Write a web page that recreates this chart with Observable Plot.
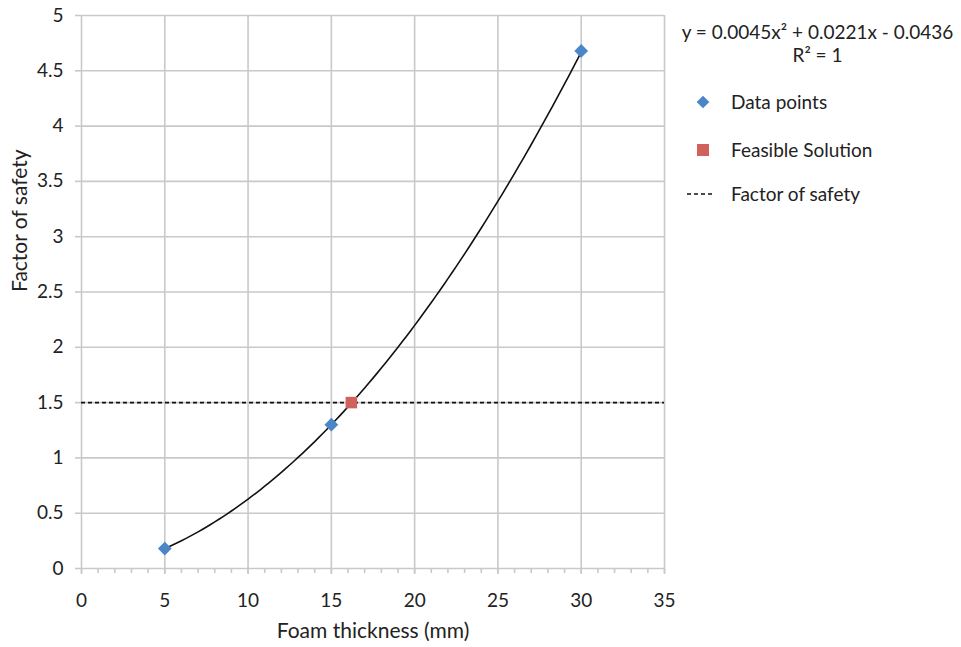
<!DOCTYPE html>
<html>
<head>
<meta charset="utf-8">
<script src="https://cdn.jsdelivr.net/npm/d3@7"></script>
<script src="https://cdn.jsdelivr.net/npm/@observablehq/plot@0.6"></script>
<style>
  html, body { margin: 0; padding: 0; background: #fff; }
  #wrap { position: relative; width: 961px; height: 647px; font-family: Lato, "Open Sans", sans-serif; color: #222; }
  #legend { position: absolute; left: 675px; top: 20px; width: 285px; font-size: 19px; }
  #legend .eq { text-align: center; line-height: 23px; }
  #legend .item { position: absolute; left: 0; display: flex; align-items: center; white-space: nowrap; }
  #legend .sym { width: 55px; display: flex; justify-content: center; align-items: center; }
</style>
</head>
<body>
<div id="wrap"></div>
<script>
// Data
const dataX = [5, 15, 30];            // foam thickness (mm)
const dataY = [0.18, 1.30, 4.68];     // factor of safety
const feasibleX = [16.2];
const feasibleY = [1.5];
const safetyFactor = 1.5;
const trendCoefficients = [0.0045, 0.0221, -0.0436]; // from the displayed equation: a x^2 + b x + c
const xTicks = [0, 5, 10, 15, 20, 25, 30, 35];
const yTicks = [0, 0.5, 1, 1.5, 2, 2.5, 3, 3.5, 4, 4.5, 5];
const xMinorTicks = d3.range(0, 36, 1);

const blue = "#4a86c8";
const red = "#d0615c";
const gridColor = "#c9c9c9";

const points = dataX.map((x, i) => ({x, y: dataY[i]}));
const feasible = feasibleX.map((x, i) => ({x, y: feasibleY[i]}));
const [a, b, c] = trendCoefficients;
const trend = d3.range(dataX[0], dataX[dataX.length - 1] + 0.001, 0.25).map(x => ({x, y: a * x * x + b * x + c}));

const chart = Plot.plot({
  width: 961,
  height: 647,
  marginLeft: 81,
  marginRight: 297,
  marginTop: 15,
  marginBottom: 79,
  style: {fontFamily: "Lato, 'Open Sans', sans-serif", fontSize: "19px", color: "#222", background: "#fff"},
  x: {domain: [0, 35], label: null},
  y: {domain: [0, 5], label: null},
  marks: [
    Plot.gridX(xTicks, {stroke: gridColor, strokeOpacity: 1, strokeWidth: 1.6}),
    Plot.gridY(yTicks, {stroke: gridColor, strokeOpacity: 1, strokeWidth: 1.6}),
    Plot.axisX(xMinorTicks, {tickSize: 5, tickFormat: () => "", stroke: gridColor, strokeWidth: 1.6}),
    Plot.axisY(yTicks, {tickSize: 6, tickPadding: 12, stroke: gridColor, strokeWidth: 1.6, tickFormat: d => String(d), fontSize: 19}),
    Plot.axisX(xTicks, {tickSize: 6, tickPadding: 19, stroke: gridColor, strokeWidth: 1.6, tickFormat: d => String(d), fontSize: 19}),
    Plot.ruleY([safetyFactor], {stroke: "#111", strokeWidth: 1.6, strokeDasharray: "4,3"}),
    Plot.line(trend, {x: "x", y: "y", stroke: "#111", strokeWidth: 1.6, curve: "linear"}),
    Plot.dot(points, {x: "x", y: "y", symbol: "diamond2", r: 6.2, fill: blue, stroke: "none"}),
    Plot.dot(feasible, {x: "x", y: "y", symbol: "square", r: 6.5, fill: red, stroke: "none"}),
    Plot.text(["Foam thickness (mm)"], {frameAnchor: "bottom", dy: 69, fontSize: 21, fill: "#222"}),
    Plot.text(["Factor of safety"], {frameAnchor: "left", dx: -61, rotate: -90, fontSize: 21, fill: "#222"})
  ]
});

const wrap = document.getElementById("wrap");
wrap.appendChild(chart);

// Legend (HTML overlay on the right)
const eq = `y = ${a}x² + ${b}x ${c < 0 ? "-" : "+"} ${Math.abs(c)}`;
const legend = document.createElement("div");
legend.id = "legend";
legend.innerHTML = `
  <div class="eq">${eq}<br>R² = 1</div>
  <div class="item" style="top:70px"><span class="sym"><svg width="14" height="14"><rect x="2.5" y="2.5" width="9" height="9" fill="${blue}" transform="rotate(45 7 7)"/></svg></span><span style="margin-left:1px">Data points</span></div>
  <div class="item" style="top:118px"><span class="sym"><svg width="14" height="14"><rect x="1" y="1" width="12" height="12" fill="${red}"/></svg></span><span style="margin-left:1px">Feasible Solution</span></div>
  <div class="item" style="top:162px"><span class="sym" style="justify-content:flex-start;width:56px"><svg width="40" height="6"><line x1="12" y1="3" x2="50" y2="3" stroke="#111" stroke-width="1.6" stroke-dasharray="4,3"/></svg></span><span>Factor of safety</span></div>
`;
wrap.appendChild(legend);
</script>
</body>
</html>
